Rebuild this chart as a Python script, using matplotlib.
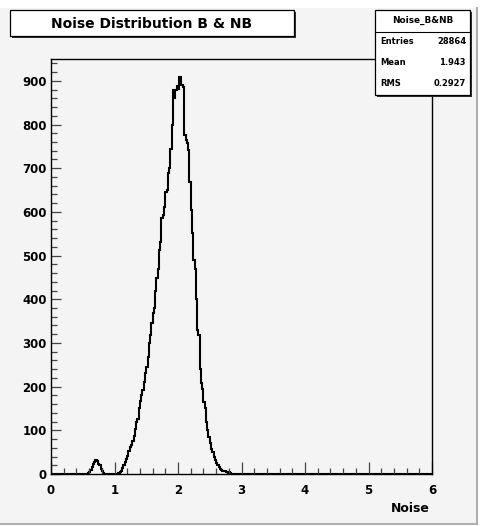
import numpy as np
import matplotlib
matplotlib.use("Agg")
import matplotlib.pyplot as plt
from matplotlib.patches import Rectangle
from matplotlib.lines import Line2D

# ---- data (bin width 0.02, bins 0..6) ----
bin_width = 0.02
first_edge = 0.56
counts = [
    0, 2, 5, 10, 16, 22, 28, 33, 30, 22,         # 0.56 - 0.74
    20, 12, 6, 3, 1, 1, 0, 0, 0, 0,               # 0.76 - 0.94
    0, 0, 1, 0, 0, 2, 4, 8, 14, 20,               # 0.96 - 1.14
    28, 34, 42, 52, 62, 66, 76, 88, 104, 118,     # 1.16 - 1.34
    126, 150, 168, 180, 192, 210, 232, 245, 268, 300,   # 1.36 - 1.54
    318, 345, 368, 380, 420, 448, 470, 512, 530, 585,   # 1.56 - 1.74
    592, 612, 645, 650, 690, 700, 745, 800, 880, 860,   # 1.76 - 1.94
    880, 888, 882, 908, 890, 890, 886, 775, 765, 758,   # 1.96 - 2.14
    742, 668, 605, 552, 490, 470, 400, 330, 318, 240,   # 2.16 - 2.34
    208, 195, 165, 150, 120, 100, 85, 70, 58, 50,       # 2.36 - 2.54
    40, 32, 26, 20, 16, 12, 10, 8, 6, 6,                # 2.56 - 2.74
    4, 3, 4, 2, 1, 1, 0,                                # 2.76 - 2.88
]
title = "Noise Distribution B & NB"
stats_name = "Noise_B&NB"
stats_rows = [("Entries", "28864"), ("Mean", "1.943"), ("RMS", "0.2927")]
x_label = "Noise"
x_range = (0, 6)
y_range = (0, 950)

# full histogram over 0..6
nbins = int(round((x_range[1] - x_range[0]) / bin_width))
edges = np.linspace(x_range[0], x_range[1], nbins + 1)
full = np.zeros(nbins)
start = int(round((first_edge - x_range[0]) / bin_width))
full[start:start + len(counts)] = counts

W, H = 486, 526
fig = plt.figure(figsize=(W / 100, H / 100), dpi=100)
fig.patch.set_facecolor("white")

def fx(px):
    return px / W

def fy(py):
    return 1 - py / H

FONT = "DejaVu Sans"

# canvas background
fig.patches.append(Rectangle((fx(0), fy(524)), fx(477), fy(8) - fy(524),
                             transform=fig.transFigure, facecolor="#f4f4f4",
                             edgecolor="none", zorder=-10))
fig.lines.append(Line2D([fx(477), fx(477)], [fy(8), fy(524)], transform=fig.transFigure,
                        color="#b0b0b0", lw=1.5, zorder=-9))
fig.lines.append(Line2D([fx(0), fx(477)], [fy(524), fy(524)], transform=fig.transFigure,
                        color="#b0b0b0", lw=1.5, zorder=-9))

ax = fig.add_axes([fx(51), fy(474), fx(432) - fx(51), fy(59) - fy(474)])
ax.set_zorder(1)
ax.set_facecolor("#f4f4f4")
ax.stairs(full, edges, color="black", lw=1.5)
ax.set_xlim(*x_range)
ax.set_ylim(*y_range)
ax.set_xticks(np.arange(0, 7, 1))
ax.set_xticks(np.arange(0, 6.01, 0.2), minor=True)
ax.set_yticks(np.arange(0, 901, 100))
ax.set_yticks(np.arange(0, 941, 20), minor=True)
for s in ax.spines.values():
    s.set_linewidth(1.0)
    s.set_color("black")
ax.tick_params(axis="x", which="major", direction="in", length=8.5, width=0.9,
               color="#444444", pad=7, top=False)
ax.tick_params(axis="x", which="minor", direction="in", length=4.3, width=0.9,
               color="#444444", top=False)
ax.tick_params(axis="y", which="major", direction="in", length=7, width=0.9,
               color="#444444", pad=3, right=False)
ax.tick_params(axis="y", which="minor", direction="in", length=4.3, width=0.9,
               color="#444444", right=False)
for lab in ax.get_xticklabels() + ax.get_yticklabels():
    lab.set_fontfamily(FONT)
    lab.set_fontweight("bold")
    lab.set_fontsize(8.5)

fig.text(fx(430), fy(508), x_label, ha="right", va="center", fontfamily=FONT,
         fontweight="bold", fontsize=9, zorder=5)

# title box with shadow
fig.patches.append(Rectangle((fx(12), fy(38)), fx(284), fy(12) - fy(38),
                             transform=fig.transFigure, facecolor="#303030",
                             edgecolor="none", zorder=2))
fig.patches.append(Rectangle((fx(10), fy(36)), fx(284), fy(10) - fy(36),
                             transform=fig.transFigure, facecolor="white",
                             edgecolor="black", lw=0.9, zorder=3))
fig.text(fx(152), fy(23.5), title, ha="center", va="center", fontfamily=FONT,
         fontweight="bold", fontsize=10, zorder=4)

# stats box
fig.patches.append(Rectangle((fx(377), fy(97)), fx(95), fy(12) - fy(97),
                             transform=fig.transFigure, facecolor="#303030",
                             edgecolor="none", zorder=2))
fig.patches.append(Rectangle((fx(375), fy(95)), fx(95), fy(10) - fy(95),
                             transform=fig.transFigure, facecolor="white",
                             edgecolor="black", lw=0.9, zorder=3))
fig.lines.append(Line2D([fx(375), fx(470)], [fy(32), fy(32)], transform=fig.transFigure,
                        color="black", lw=0.8, zorder=4))
fig.text(fx(422.5), fy(20.5), stats_name, ha="center", va="center", fontfamily=FONT,
         fontweight="bold", fontsize=6.4, zorder=4)
row_y = [42, 62.5, 83]
for (k, v), yy in zip(stats_rows, row_y):
    fig.text(fx(380), fy(yy), k, ha="left", va="center", fontfamily=FONT,
             fontweight="bold", fontsize=6.0, zorder=4)
    fig.text(fx(466), fy(yy), v, ha="right", va="center", fontfamily=FONT,
             fontweight="bold", fontsize=6.0, zorder=4)

fig.savefig("out.png", dpi=100, facecolor=fig.get_facecolor())
